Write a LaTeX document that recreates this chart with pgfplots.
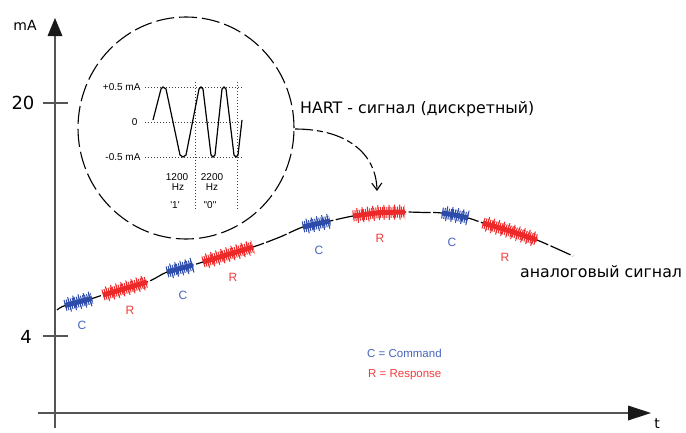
\documentclass[border=0pt]{standalone}
\usepackage{pgfplots}
\pgfplotsset{compat=1.18}
\usepackage{fontspec}
\setmainfont{DejaVu Sans}
\newfontfamily\arialf{Liberation Sans}
\usetikzlibrary{arrows.meta}
\definecolor{axisgray}{RGB}{85,85,85}
\definecolor{bblue}{RGB}{45,75,170}
\definecolor{lblue}{RGB}{70,100,190}
\definecolor{bred}{RGB}{236,40,40}
\definecolor{lred}{RGB}{240,60,60}
\pgfplotsset{
  burstA/.style={line width=11bp, dash pattern=on 1bp off 1.1bp},
  burstB/.style={line width=15bp, dash pattern=on 1bp off 4.3bp, dash phase=1.1bp},
  burstC/.style={line width=5bp},
}
\newcommand{\burst}[2]{%
  \addplot[#1, burstA] coordinates {#2};
  \addplot[#1, burstB] coordinates {#2};
  \addplot[#1, burstC] coordinates {#2};
}
\begin{document}
\begin{tikzpicture}
\begin{axis}[
  width=686bp, height=431bp, scale only axis,
  xmin=0, xmax=686, ymin=0, ymax=431, y dir=reverse,
  hide axis, clip=false,
]
\path (rel axis cs:0,0) rectangle (rel axis cs:1,1);
% axes
\addplot[axisgray, line width=2bp] coordinates {(55,35) (55,428)};
\addplot[axisgray, line width=2bp] coordinates {(38,413) (630,413)};
\addplot[axisgray, line width=1.6bp] coordinates {(43,103) (68,103)};
\addplot[axisgray, line width=1.6bp] coordinates {(43,336) (68,336)};
\fill[black!90] (axis cs:55,18) -- (axis cs:47.5,36) -- (axis cs:62.5,36) -- cycle;
\fill[black!90] (axis cs:651,413) -- (axis cs:628,405.5) -- (axis cs:628,420.5) -- cycle;
\node[font=\fontsize{14bp}{16bp}\selectfont] at (axis cs:25,25) {mA};
\node[font=\fontsize{18bp}{20bp}\selectfont] at (axis cs:23,103) {20};
\node[font=\fontsize{18bp}{20bp}\selectfont] at (axis cs:26,337) {4};
\node[font=\fontsize{14bp}{16bp}\selectfont] at (axis cs:657,424) {t};
% magnifier circle
\draw[black, line width=1.1bp, dash pattern=on 18bp off 5bp] (axis cs:186,128) ellipse [x radius=108bp, y radius=111bp];
\draw[black, line width=1.1bp, dash pattern=on 18bp off 4bp on 6bp off 4bp, -{Straight Barb[length=7bp,width=10bp]}]
  (axis cs:295,129) .. controls (axis cs:345,129) and (axis cs:376,152) .. (axis cs:377,191);
% inner plot grid
\addplot[black!75, line width=0.9bp, dash pattern=on 1bp off 2bp] coordinates {(145,87) (242,87)};
\addplot[black!75, line width=0.9bp, dash pattern=on 1bp off 2bp] coordinates {(145,122) (242,122)};
\addplot[black!75, line width=0.9bp, dash pattern=on 1bp off 2bp] coordinates {(145,157) (242,157)};
\addplot[black!75, line width=0.9bp, dash pattern=on 1bp off 2bp] coordinates {(195,82) (195,210)};
\addplot[black!75, line width=0.9bp, dash pattern=on 1bp off 2bp] coordinates {(237,82) (237,210)};
\addplot[black, line width=1.2bp] coordinates {
  (153,120) (161,89) (163,87) (166,89) (180,155) (183,157) (186,155)
  (199,89) (201,87) (203,89) (211,155) (213,157) (215,155)
  (222,89) (224,87) (226,89) (234,155) (236,157) (238,155) (242,120)};
\begin{scope}[font=\arialf\fontsize{10bp}{11bp}\selectfont]
\node[anchor=east] at (axis cs:144,87) {+0.5 mA};
\node[anchor=east] at (axis cs:141,122) {0};
\node[anchor=east] at (axis cs:144,157) {-0.5 mA};
\node at (axis cs:177,177) {1200};
\node at (axis cs:178,187) {Hz};
\node at (axis cs:175,205) {'1'};
\node at (axis cs:212,177) {2200};
\node at (axis cs:212,187) {Hz};
\node at (axis cs:210,205) {"0"};
\end{scope}
% analog curve
\addplot[black, line width=1.2bp, smooth, tension=0.5, dash pattern=on 22bp off 2.5bp] coordinates {
  (57,310) (65,305.5) (92,298.5) (103,295) (147,282) (167,272) (193,265)
  (203,262) (253,247) (280,237) (303,227) (330,221) (353,216) (380,212.5)
  (405,212) (425,212.5) (442,213) (468,218) (483,223) (510,231) (537,240) (573,256)};
% HART bursts
\burst{bblue}{(65,305.5) (78,302) (92,298.5)}
\burst{bred}{(103,295) (125,288.5) (147,282)}
\burst{bblue}{(167,272) (180,268.5) (193,265)}
\burst{bred}{(203,262) (228,254.5) (253,247)}
\burst{bblue}{(303,227) (316,224) (330,221)}
\burst{bred}{(353,216) (380,212.5) (405,212)}
\burst{bblue}{(442,213) (455,215) (468,218)}
\burst{bred}{(483,223) (510,231) (537,240)}
\begin{scope}[font=\arialf\fontsize{12bp}{13bp}\selectfont]
\node[lblue] at (axis cs:82,325) {C};
\node[lred] at (axis cs:130,310) {R};
\node[lblue] at (axis cs:183,295) {C};
\node[lred] at (axis cs:233,277) {R};
\node[lblue] at (axis cs:319,250) {C};
\node[lred] at (axis cs:380,238) {R};
\node[lblue] at (axis cs:452,242) {C};
\node[lred] at (axis cs:505,257) {R};
\end{scope}
\begin{scope}[font=\arialf\fontsize{11.5bp}{13bp}\selectfont]
\node[lblue, anchor=base west, inner sep=0pt] at (axis cs:367,357) {C = Command};
\node[lred, anchor=base west, inner sep=0pt] at (axis cs:368,377) {R = Response};
\end{scope}
\node[anchor=base west, inner sep=0pt, font=\fontsize{15.8bp}{17bp}\selectfont] at (axis cs:300,113) {HART - сигнал (дискретный)};
\node[anchor=base west, inner sep=0pt, font=\fontsize{15.8bp}{17bp}\selectfont] at (axis cs:520,277) {аналоговый сигнал};
\end{axis}
\end{tikzpicture}
\end{document}
